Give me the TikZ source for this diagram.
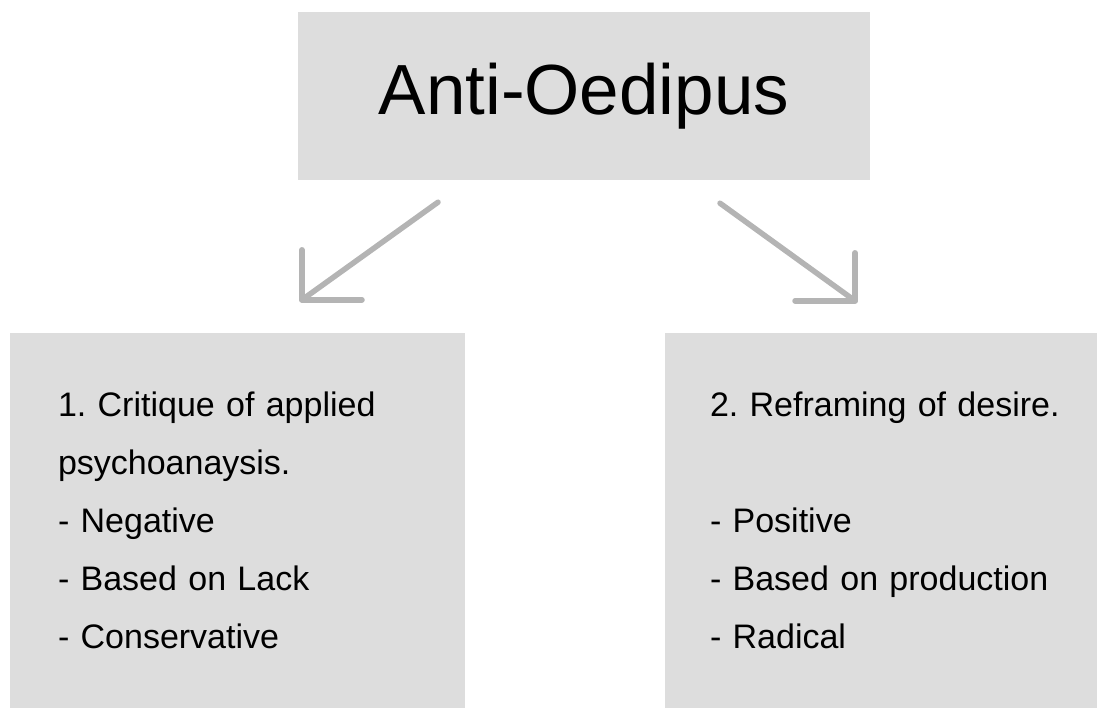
\documentclass[tikz,border=0pt]{standalone}
\usepackage{fontspec}
\setmainfont{Liberation Sans}
\newfontfamily\listfont[WordSpace=1.4]{Liberation Sans}
\usepackage{xcolor}
\usepackage{tikz}
\usetikzlibrary{arrows.meta}

\definecolor{boxgray}{HTML}{DDDDDD}
\definecolor{arrowgray}{HTML}{B4B4B4}

\begin{document}
\begin{tikzpicture}[x=1pt, y=-1pt,
	titlebox/.style={fill=boxgray, minimum width=572, minimum height=168, inner sep=0, font=\fontsize{71}{84}\selectfont},
	textbox/.style={fill=boxgray, minimum height=375, align=left, font=\listfont\fontsize{34}{58}\selectfont\frenchspacing},
	link/.style={draw=arrowgray, line width=5.5, line cap=round, line join=round}
]
\useasboundingbox (0,0) rectangle (1104,713);

\node[titlebox] (title) at (584,96) {Anti-Oedipus};

\node[textbox, text width=359, inner xsep=48] (critique) at (237.5,520.5) {1. Critique of applied\\ psychoanaysis.\\ - Negative\\ - Based on Lack\\ - Conservative};
\node[textbox, text width=342, inner xsep=45] (desire) at (881,520.5) {\mbox{2. Reframing of desire.}\\[58pt] - Positive\\ \mbox{- Based on production}\\ - Radical};

\coordinate (tipL) at ([shift={(64.5,-33)}]critique.north);
\coordinate (tipR) at ([shift={(-26,-32)}]desire.north);

\draw[link] ([shift={(-146,22)}]title.south) -- (tipL);
\draw[link] (tipL) ++(0,-50) -- (tipL) -- ++(60,0);
\draw[link] ([shift={(136,23)}]title.south) -- (tipR);
\draw[link] (tipR) ++(0,-48) -- (tipR) -- ++(-60,0);
\end{tikzpicture}
\end{document}
